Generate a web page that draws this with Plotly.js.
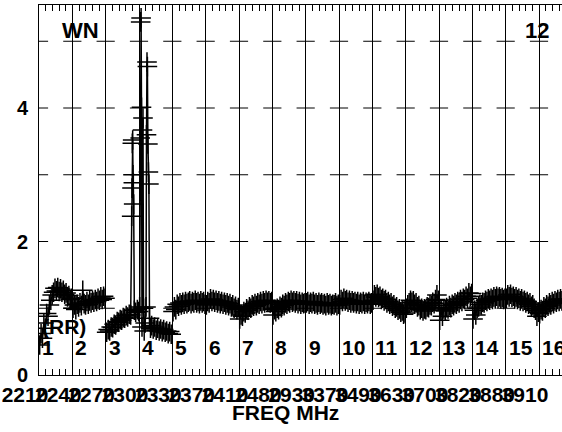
<!DOCTYPE html>
<html>
<head>
<meta charset="utf-8">
<script src="https://cdn.plot.ly/plotly-3.0.1.min.js"></script>
<style>html,body{margin:0;padding:0;background:#fff;}#chart{width:562px;height:432px;}</style>
</head>
<body>
<div id="chart"></div>
<script>
// Segment (band) labels and the frequency tick labels at each segment start
const segLabels = ['1','2','3','4','5','6','7','8','9','10','11','12','13','14','15','16'];
const freqLabels = ['2210','2240','2270','2300','2330','2370','2410','2480','2930','3370','3490','3630','3700','3820','3880','3910'];
const gridLevels = [1, 2, 3, 4, 5];
const yTickVals = [0, 2, 4];
const yTickText = ['0', '2', '4'];

// Values per segment (evenly spaced inside the segment)
const seg1 = [0.45,0.62,0.55,0.78,0.70,0.92,0.88,1.05,1.12,1.20,1.24,1.30,1.26,1.31,1.25,1.29,1.24,1.27,1.21,1.23,1.17,1.19,1.13,1.15];
const seg2 = [1.00,1.05,0.98,1.06,1.02,1.08,1.04,1.27,1.07,1.05,1.10,1.06,1.11,1.08,1.12,1.09,1.13,1.10,1.15,1.12,1.17,1.13,1.18,1.15];
// Segments 3 and 4 hold narrow spikes: position inside segment (0..1) and value
const seg3Pos = [0.03,0.076,0.12,0.166,0.21,0.256,0.30,0.346,0.39,0.436,0.48,0.526,0.57,0.616,0.66,0.706,0.75,0.78,0.79,0.80,0.81,0.82,0.83,0.84,0.86,0.90,0.95,0.99];
const seg3 = [0.64,0.68,0.66,0.72,0.71,0.76,0.75,0.80,0.79,0.83,0.82,0.86,0.85,0.89,0.87,0.91,0.90,2.38,2.80,3.47,3.52,3.00,2.88,2.56,0.97,0.94,0.98,0.95];
const seg4Pos = [0.02,0.036,0.05,0.063,0.075,0.09,0.105,0.12,0.135,0.156,0.186,0.21,0.225,0.24,0.252,0.267,0.282,0.297,0.315,0.345,0.38,0.426,0.47,0.516,0.56,0.606,0.65,0.696,0.74,0.786,0.83,0.876,0.92,0.966];
const seg4 = [1.02,3.55,5.29,5.35,4.01,0.72,3.67,3.85,1.00,0.66,0.78,1.02,3.60,4.69,4.62,3.46,3.04,2.86,0.85,0.70,0.74,0.69,0.72,0.67,0.70,0.66,0.69,0.65,0.68,0.64,0.66,0.62,0.65,0.61];
const seg5 = [0.95,1.02,0.98,1.06,1.03,1.08,1.05,1.09,1.06,1.10,1.07,1.09,1.11,1.07,1.10,1.08,1.12,1.08,1.10,1.07,1.11,1.08,1.10,1.06];
const seg6 = [1.05,1.10,1.08,1.14,1.10,1.13,1.09,1.12,1.08,1.11,1.07,1.10,1.06,1.09,1.05,1.08,1.04,1.07,1.02,1.05,1.00,1.03,0.98,1.01];
const seg7 = [0.84,0.90,0.88,0.95,0.93,0.99,0.97,1.02,1.00,1.05,1.03,1.07,1.04,1.08,1.06,1.10,1.07,1.11,1.08,1.12,1.09,1.11,1.08,1.10];
const seg8 = [0.90,0.98,0.95,1.00,0.98,1.03,1.01,1.06,1.04,1.08,1.06,1.10,1.08,1.12,1.09,1.11,1.08,1.11,1.07,1.10,1.06,1.09,1.07,1.08];
const seg9 = [1.08,1.10,1.06,1.09,1.07,1.10,1.06,1.08,1.05,1.09,1.06,1.08,1.05,1.07,1.04,1.08,1.05,1.07,1.04,1.06,1.05,1.08,1.04,1.06];
const seg10 = [1.05,1.13,1.10,1.15,1.11,1.13,1.09,1.12,1.08,1.11,1.08,1.10,1.07,1.10,1.06,1.09,1.07,1.10,1.06,1.09,1.07,1.10,1.06,1.08];
const seg11 = [1.12,1.20,1.17,1.21,1.16,1.18,1.13,1.15,1.11,1.13,1.08,1.10,1.06,1.08,1.03,1.05,1.00,1.02,0.97,0.99,0.94,0.96,0.91,0.93];
const seg12 = [1.00,1.05,1.08,1.12,1.09,1.11,1.06,1.08,1.02,1.04,0.98,1.00,0.96,0.99,0.98,1.02,1.01,1.05,1.04,1.09,1.07,1.13,1.20,1.12];
const seg13 = [0.82,0.97,0.88,0.99,0.96,1.01,0.99,1.04,1.01,1.06,1.04,1.08,1.06,1.10,1.08,1.13,1.10,1.15,1.13,1.18,1.15,1.23,1.18,1.22];
const seg14 = [0.84,0.97,0.90,1.00,1.02,1.06,1.05,1.09,1.08,1.12,1.10,1.14,1.12,1.15,1.13,1.17,1.14,1.18,1.15,1.17,1.14,1.16,1.13,1.15];
const seg15 = [1.15,1.20,1.17,1.21,1.16,1.18,1.14,1.17,1.13,1.15,1.11,1.14,1.10,1.12,1.08,1.10,1.06,1.08,1.03,1.05,1.00,0.97,0.88,0.94];
const seg16 = [0.92,0.98,0.96,1.02,1.00,1.05,1.03,1.08,1.05,1.10,1.07,1.11,1.09,1.13,1.10,1.14,1.11,1.13,1.10,1.14,1.11,1.13,1.10,1.12];

const segments = [seg1,seg2,seg3,seg4,seg5,seg6,seg7,seg8,seg9,seg10,seg11,seg12,seg13,seg14,seg15,seg16];
const segPositions = {2: seg3Pos, 3: seg4Pos};

const xs = [], ys = [];
segments.forEach((vals, k) => {
  const pos = segPositions[k];
  vals.forEach((v, i) => {
    xs.push(k + (pos ? pos[i] : (i + 0.5) / vals.length));
    ys.push(v);
  });
  xs.push(null); ys.push(null);
});

const boundaries = segLabels.map((_, k) => k);
const dashX = [], dashY = [];
boundaries.concat([segLabels.length]).forEach(bd => gridLevels.forEach(g => { dashX.push(bd); dashY.push(g); }));

const FONT = 'Liberation Sans';
const bold = (size) => ({family: FONT, size: size, color: '#000', weight: 'bold'});
const b = (t) => '<b>' + t + '</b>';

// tick value -> frequency label
const freqAlias = {};
boundaries.forEach((bd, k) => { freqAlias[String(bd)] = b(freqLabels[k]); });

const traces = [
  {x: dashX, y: dashY, mode: 'markers', type: 'scatter', cliponaxis: true, hoverinfo: 'skip',
   marker: {symbol: 'line-ew-open', size: 13, color: '#000', line: {width: 1, color: '#000'}}},
  {x: xs, y: ys, mode: 'lines+markers', type: 'scatter', cliponaxis: true, connectgaps: false,
   line: {color: '#000', width: 1.5},
   marker: {symbol: 'cross-thin-open', size: 14, color: '#000', line: {width: 1.5, color: '#000'}}}
];

const annotations = segLabels.map((t, k) => ({
  x: k, y: 0.41, xref: 'x', yref: 'y', text: b(t), showarrow: false,
  xanchor: 'left', yanchor: 'middle', xshift: 1, font: bold(21)
}));
annotations.push({x: 1.25, y: 5.16, xref: 'x', yref: 'y', text: b('WN'), showarrow: false, xanchor: 'center', yanchor: 'middle', font: bold(22)});
annotations.push({x: 14.95, y: 5.16, xref: 'x', yref: 'y', text: b('12'), showarrow: false, xanchor: 'center', yanchor: 'middle', font: bold(22)});
annotations.push({x: 0, y: 0.73, xref: 'x', yref: 'y', text: b('(RR)'), showarrow: false, xanchor: 'left', yanchor: 'middle', xshift: 1, font: bold(21)});
annotations.push({x: 0.472, y: -0.1, xref: 'paper', yref: 'paper', text: b('FREQ MHz'), showarrow: false, xanchor: 'center', yanchor: 'middle', font: bold(21)});

const layout = {
  width: 562, height: 432,
  margin: {l: 39, r: 0, t: 5, b: 57, pad: 0},
  paper_bgcolor: '#fff', plot_bgcolor: '#fff',
  showlegend: false,
  font: {family: FONT, color: '#000'},
  xaxis: {
    range: [0, 15.69], tickmode: 'linear', tick0: 0, dtick: 1, labelalias: freqAlias,
    tickangle: 0, ticks: 'inside', ticklen: 8, tickcolor: '#000', tickwidth: 1,
    showgrid: true, gridcolor: '#000', gridwidth: 1,
    showline: true, linecolor: '#000', linewidth: 1, mirror: 'ticks', zeroline: false,
    tickfont: bold(21), ticklabelshift: -14, ticklabelstandoff: 1, ticklabeloverflow: 'allow',
    minor: {tick0: 0, dtick: 0.2, ticks: 'inside', ticklen: 6, tickcolor: '#000', tickwidth: 1, showgrid: false}
  },
  yaxis: {
    range: [0, 5.543], tickmode: 'array', tickvals: yTickVals, ticktext: yTickText.map(b),
    ticks: '', showgrid: false, showline: true, linecolor: '#000', linewidth: 1,
    mirror: false, zeroline: false, tickfont: bold(20), ticklabelstandoff: 6
  },
  annotations: annotations
};

Plotly.newPlot('chart', traces, layout, {displayModeBar: false, staticPlot: true});
</script>
</body>
</html>
